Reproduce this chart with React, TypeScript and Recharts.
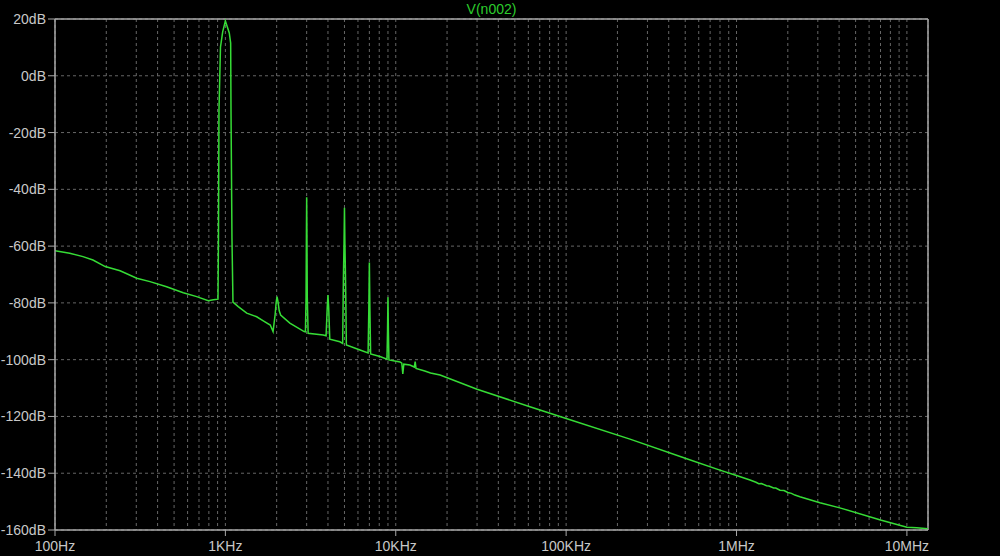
import { LineChart, Line, XAxis, YAxis, CartesianGrid, ReferenceLine } from 'recharts';

// FFT of V(n002): frequency (Hz) and level (dB)
const freqHz = [
  100, 122, 146, 167, 197, 241, 302, 361, 452, 566, 679, 794, 850, 905,
  911, 917, 936, 964, 1000, 1054, 1074, 1079, 1093, 1108,
  1190, 1334, 1527, 1669, 1834, 1905, 1960, 1985, 2010, 2035, 2070, 2110, 2390, 2900,
  2950, 2975, 2990, 3000, 3010, 3025, 3060, 3750,
  3900, 3960, 4000, 4040, 4100, 4700,
  4880, 4930, 4970, 5000, 5030, 5070, 5130, 6170,
  6880, 6950, 7000, 7050, 7120, 8080,
  8880, 8950, 9000, 9050, 9120, 10600,
  10850, 11000, 11150, 12100, 12850, 13000, 13150, 14800, 16000, 18200,
  30000, 61300, 100000, 237000, 500000, 799000, 1000000,
  1200000, 1300000, 1350000, 1400000, 1500000, 1550000, 1650000, 1700000, 1800000,
  1900000, 2000000, 2100000, 2200000, 2355000, 3087000, 4040000, 7000000, 10000000,
  11400000, 13300000,
];

const levelDb = [
  -61.6, -62.5, -63.7, -64.9, -67.2, -68.7, -71.3, -72.5, -74.3, -76.4, -77.8, -79.2, -78.9, -78.7,
  -56.8, -12.4, 10.1, 15.5, 19.3, 15.1, 11.5, -12.4, -57.1, -79.7,
  -81.3, -83.6, -84.9, -86.3, -87.8, -90.1, -84.0, -80.0, -77.8, -79.5, -82.8, -84.3, -87.1, -90.1,
  -90.2, -78.0, -55.0, -42.8, -55.0, -78.0, -90.7, -91.3,
  -91.6, -81.8, -77.2, -81.8, -92.8, -93.7,
  -94.3, -70.8, -59.0, -46.5, -59.0, -70.8, -94.8, -96.6,
  -97.6, -81.9, -65.8, -81.9, -98.0, -98.9,
  -99.8, -89.5, -78.0, -89.5, -100.1, -100.8,
  -101.2, -105.0, -101.6, -101.9, -102.6, -100.7, -103.1, -104.0, -104.7, -105.4,
  -110.4, -116.6, -120.7, -128.0, -134.7, -138.9, -140.8,
  -142.4, -143.2, -143.7, -143.6, -144.4, -144.5, -145.2, -145.2, -146.0,
  -146.1, -146.8, -147.1, -147.7, -148.3, -150.4, -152.2, -156.5, -159.0,
  -159.2, -159.6,
];

const decades = [100, 1000, 10000, 100000, 1000000, 10000000];
const decadeLabels = ['100Hz', '1KHz', '10KHz', '100KHz', '1MHz', '10MHz'];
const dbTicks = [20, 0, -20, -40, -60, -80, -100, -120, -140, -160];

const xMin = 100;
const xMax = 13300000;

// grid lines at 1..9 x each decade inside the domain
const xTicks: number[] = [];
decades.forEach((d) => {
  for (let m = 1; m <= 9; m++) {
    const v = d * m;
    if (v >= xMin && v <= xMax) xTicks.push(v);
  }
});

const data = freqHz.map((f, i) => ({ f, db: levelDb[i] }));

const axisGray = '#a8a8a8';
const textGray = '#c8c8c8';
const gridGray = '#666666';
const traceGreen = '#36dc36';
const fontFamily = '"Liberation Sans", Arial, sans-serif';

const FreqTick = (props: any) => {
  const { x, y, payload } = props;
  const idx = decades.indexOf(payload.value);
  if (idx < 0) return <g />;
  return (
    <g>
      <line x1={x} x2={x} y1={y - 8} y2={y - 2} stroke={axisGray} />
      <text
        x={x}
        y={y + 13}
        textAnchor="middle"
        fill={textGray}
        fontSize={14}
        fontFamily={fontFamily}
      >
        {decadeLabels[idx]}
      </text>
    </g>
  );
};

export default function App() {
  return (
    <div
      style={{
        position: 'absolute',
        left: 0,
        top: 0,
        width: 1000,
        height: 556,
        background: '#000000',
      }}
    >
      <LineChart
        width={1000}
        height={556}
        data={data}
        margin={{ top: 19, right: 72, bottom: 0, left: 0 }}
      >
        <CartesianGrid stroke={gridGray} strokeDasharray="3 3" />
        <XAxis
          dataKey="f"
          type="number"
          scale="log"
          domain={[xMin, xMax]}
          allowDataOverflow
          ticks={xTicks}
          interval={0}
          height={26}
          tickSize={6}
          tickMargin={2}
          tickLine={false}
          axisLine={{ stroke: axisGray, strokeWidth: 1.5 }}
          tick={<FreqTick />}
        />
        <YAxis
          type="number"
          domain={[-160, 20]}
          ticks={dbTicks}
          interval={0}
          width={55}
          tickSize={7}
          tickMargin={2}
          tickFormatter={(v: number) => `${v}dB`}
          tick={{ fill: textGray, fontSize: 14, fontFamily }}
          tickLine={{ stroke: axisGray }}
          axisLine={{ stroke: axisGray, strokeWidth: 1.5 }}
        />
        <ReferenceLine
          y={20}
          stroke={axisGray}
          strokeWidth={1.5}
          label={{
            value: 'V(n002)',
            position: 'top',
            fill: '#2ccc2c',
            fontSize: 14,
            fontFamily,
            offset: 5,
          }}
        />
        <ReferenceLine x={xMax} stroke={axisGray} strokeWidth={1.5} />
        <Line
          dataKey="db"
          type="linear"
          stroke={traceGreen}
          strokeWidth={1.5}
          dot={false}
          isAnimationActive={false}
        />
      </LineChart>
    </div>
  );
}
